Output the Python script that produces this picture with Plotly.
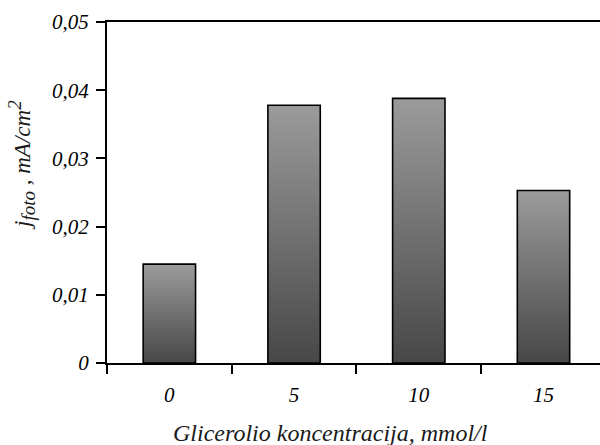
import plotly.graph_objects as go

categories = ["0", "5", "10", "15"]
values = [0.0145, 0.0378, 0.0388, 0.0253]
ytick_vals = [0, 0.01, 0.02, 0.03, 0.04, 0.05]
ytick_text = ["0", "0,01", "0,02", "0,03", "0,04", "0,05"]

FONT = "Liberation Serif"
bar_w = 0.42

fig = go.Figure()
for i, v in enumerate(values):
    x0, x1 = i - bar_w / 2, i + bar_w / 2
    fig.add_trace(go.Scatter(
        x=[x0, x0, x1, x1, x0], y=[0, v, v, 0, 0],
        mode="lines", fill="toself",
        line=dict(color="black", width=1.6),
        fillgradient=dict(type="vertical",
                          colorscale=[[0, "#474747"], [1, "#9b9b9b"]]),
        showlegend=False, hoverinfo="skip",
    ))

fig.update_layout(
    width=600, height=445,
    margin=dict(l=107, r=0, t=22, b=82),
    paper_bgcolor="white", plot_bgcolor="white",
    font=dict(family=FONT, color="black"),
    showlegend=False,
)
fig.update_xaxes(
    range=[-0.5, 3.453],
    tickvals=list(range(len(categories))), ticktext=categories,
    ticks="", showgrid=False, zeroline=False,
    showline=True, linecolor="black", linewidth=2, mirror=True,
    tickfont=dict(family=FONT, size=21, style="italic"),
    ticklabelstandoff=12,
    minor=dict(tickvals=[-0.5, 0.5, 1.5, 2.5], ticks="outside",
               ticklen=9, tickwidth=2, tickcolor="black", showgrid=False),
)
fig.update_yaxes(
    range=[0, 0.05],
    tickvals=ytick_vals, ticktext=ytick_text,
    ticks="outside", ticklen=9, tickwidth=2, tickcolor="black",
    showgrid=False, zeroline=False,
    showline=True, linecolor="black", linewidth=2,
    tickfont=dict(family=FONT, size=21, style="italic"),
    ticklabelstandoff=3,
)
fig.add_annotation(
    text="j<sub><span style='font-size:19px'>foto</span></sub> , mA/cm<sup><span style='font-size:19px'>2</span></sup>",
    xref="paper", yref="paper", x=-0.175, y=0.58,
    xanchor="center", yanchor="middle", textangle=-90, showarrow=False,
    font=dict(family=FONT, size=23, style="italic", color="#1a1a1a"),
)
fig.add_annotation(
    text="Glicerolio koncentracija, mmol/l",
    xref="paper", yref="paper", x=0.454, y=-0.205,
    xanchor="center", yanchor="middle", showarrow=False,
    font=dict(family=FONT, size=24, style="italic", color="#1a1a1a"),
)

fig.write_html("out.html", config={"displayModeBar": False},
               post_script="document.body.style.margin='0';")
